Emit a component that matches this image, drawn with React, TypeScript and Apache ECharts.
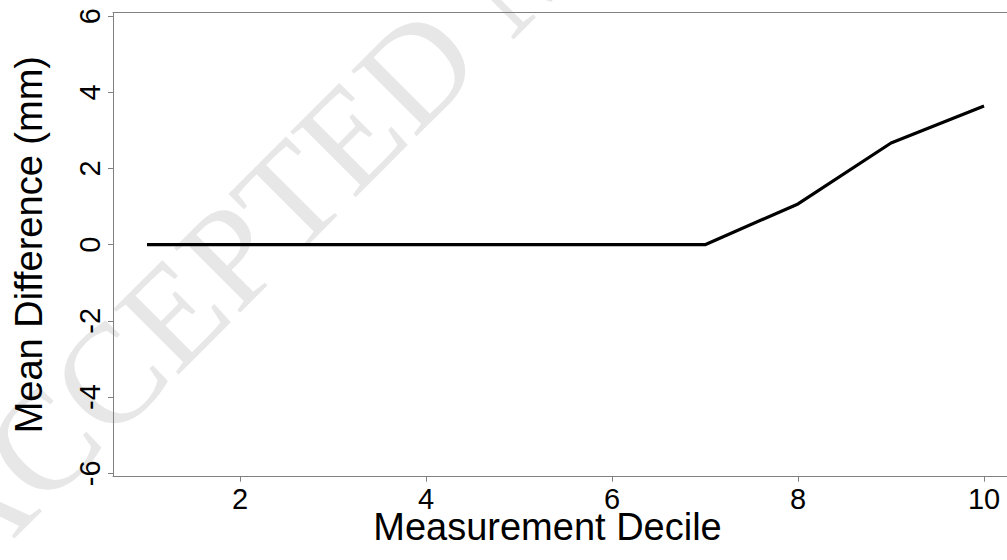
import React, { useEffect, useRef } from "react";
import * as echarts from "echarts";

const deciles = [1, 2, 3, 4, 5, 6, 7, 8, 9, 10];
const meanDiff = [0, 0, 0, 0, 0, 0, 0, 1.07, 2.67, 3.64];
const xTicks = [2, 4, 6, 8, 10];
const yTicks = [-6, -4, -2, 0, 2, 4, 6];

export default function App() {
  const ref = useRef<HTMLDivElement>(null);
  useEffect(() => {
    if (!ref.current) return;
    const chart = echarts.init(ref.current, undefined, { renderer: "svg" });
    const font = "Arial, 'Liberation Sans', Helvetica, sans-serif";
    chart.setOption({
      animation: false,
      backgroundColor: "#ffffff",
      grid: {
        left: 113,
        right: 0,
        top: 12.7,
        bottom: 83.3,
        containLabel: false,
        outerBoundsMode: "none",
      },
      graphic: [
        {
          type: "text",
          z: -10,
          silent: true,
          x: 528,
          y: -43,
          rotation: Math.PI / 4,
          style: {
            text: "ACCEPTED MANUSCRIPT",
            font: "141px 'Liberation Serif', 'Times New Roman', serif",
            fill: "#e7e7e7",
            align: "center",
            verticalAlign: "middle",
          },
        },
      ],
      xAxis: [
        {
          type: "value",
          min: 0.634,
          max: 10.247,
          name: "Measurement Decile",
          nameLocation: "middle",
          nameGap: 35,
          nameMoveOverlap: false,
          nameTextStyle: {
            fontFamily: font,
            fontSize: 38,
            lineHeight: 30,
            color: "#000",
            padding: [0, 25, 0, 0],
          },
          axisLine: { show: true, onZero: false, lineStyle: { color: "#808080", width: 1 } },
          axisTick: { show: true, length: 5, lineStyle: { color: "#808080" }, customValues: xTicks },
          axisLabel: {
            fontFamily: font,
            fontSize: 29,
            lineHeight: 23,
            color: "#000",
            margin: 10.5,
            customValues: xTicks,
          },
          splitLine: { show: false },
        },
        {
          type: "value",
          position: "top",
          min: 0.634,
          max: 10.247,
          axisLine: { show: true, onZero: false, lineStyle: { color: "#808080", width: 1 } },
          axisTick: { show: false },
          axisLabel: { show: false },
          splitLine: { show: false },
        },
      ],
      yAxis: {
        type: "value",
        min: -6.09,
        max: 6.09,
        name: "Mean Difference (mm)",
        nameLocation: "middle",
        nameGap: 65,
        nameMoveOverlap: false,
        nameTextStyle: { fontFamily: font, fontSize: 38, color: "#000" },
        axisLine: { show: true, onZero: false, lineStyle: { color: "#808080", width: 1 } },
        axisTick: { show: true, length: 5, lineStyle: { color: "#808080" }, customValues: yTicks },
        axisLabel: { fontFamily: font, fontSize: 29, color: "#000", margin: 8.5, rotate: 90, customValues: yTicks },
        splitLine: { show: false },
      },
      series: [
        {
          type: "line",
          xAxisIndex: 0,
          data: deciles.map((d, i) => [d, meanDiff[i]]),
          showSymbol: false,
          symbol: "none",
          lineStyle: { color: "#000000", width: 3.2 },
          z: 5,
        },
      ],
    });
    return () => chart.dispose();
  }, []);
  return (
    <div
      ref={ref}
      style={{ position: "absolute", left: 0, top: 0, width: 1007, height: 560 }}
    />
  );
}
